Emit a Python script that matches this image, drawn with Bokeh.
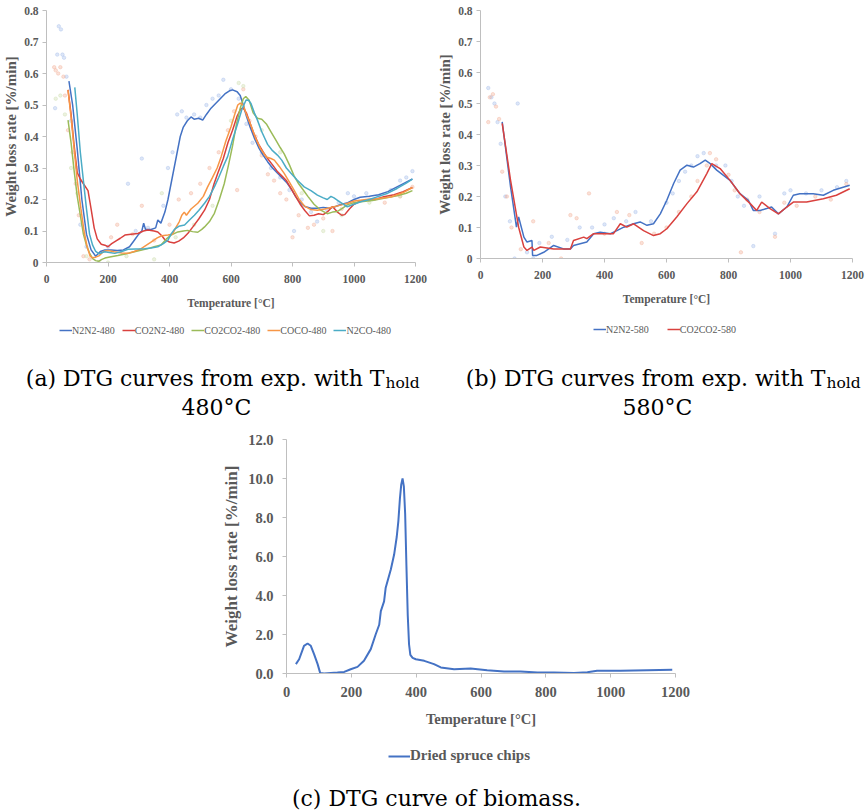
from bokeh.plotting import figure
from bokeh.layouts import column, row
from bokeh.models import Range1d, FixedTicker, Legend, LegendItem, Label, PrintfTickFormatter
from bokeh.embed import file_html
from bokeh.resources import INLINE

# ---------------------------------------------------------------- ticks
temp_ticks = [0, 200, 400, 600, 800, 1000, 1200]
rate_ticks_ab = [0, 0.1, 0.2, 0.3, 0.4, 0.5, 0.6, 0.7, 0.8]
rate_ticks_c = [0, 2, 4, 6, 8, 10, 12]

# ---------------------------------------------------------------- (a) Thold 480 C
n2n2_480_t = [73, 85, 100, 115, 130, 145, 160, 175, 190, 210, 230, 250, 270, 285, 300, 310, 316, 322, 340, 355,
              362, 372, 385, 395, 405, 415, 425, 435, 445, 458, 470, 480, 495, 508, 520, 535, 550, 565, 580, 595,
              605, 620, 630, 640, 650, 662, 676, 690, 705, 719, 735, 750, 765, 780, 795, 810, 825, 840, 860, 881,
              900, 920, 940, 960, 980, 1000, 1020, 1050, 1080, 1110, 1140, 1170, 1190]
n2n2_480_v = [0.576, 0.50, 0.36, 0.20, 0.09, 0.04, 0.02, 0.035, 0.04, 0.04, 0.038, 0.04, 0.05, 0.07, 0.09, 0.10,
              0.125, 0.105, 0.105, 0.11, 0.135, 0.125, 0.16, 0.20, 0.25, 0.30, 0.35, 0.40, 0.43, 0.45, 0.462,
              0.455, 0.458, 0.452, 0.47, 0.49, 0.505, 0.52, 0.535, 0.545, 0.548, 0.542, 0.53, 0.50, 0.465, 0.43,
              0.395, 0.365, 0.34, 0.32, 0.30, 0.285, 0.27, 0.255, 0.235, 0.21, 0.19, 0.178, 0.172, 0.172, 0.175,
              0.172, 0.178, 0.185, 0.19, 0.20, 0.207, 0.21, 0.215, 0.225, 0.24, 0.255, 0.265]

co2n2_480_t = [70, 80, 90, 100, 110, 120, 135, 145, 155, 165, 178, 190, 200, 212, 225, 240, 255, 275, 297, 315,
               330, 350, 362, 375, 385, 400, 415, 430, 445, 460, 476, 495, 514, 530, 545, 557, 575, 590, 605, 620,
               632, 640, 650, 663, 676, 690, 705, 719, 735, 750, 765, 780, 795, 810, 825, 840, 855, 870, 885, 900,
               915, 930, 946, 960, 970, 985, 1000, 1020, 1043, 1070, 1097, 1130, 1160, 1190]
co2n2_480_v = [0.548, 0.47, 0.37, 0.285, 0.265, 0.25, 0.228, 0.17, 0.11, 0.075, 0.058, 0.055, 0.05, 0.06, 0.068,
               0.077, 0.087, 0.09, 0.092, 0.10, 0.103, 0.10, 0.097, 0.085, 0.072, 0.065, 0.062, 0.068, 0.078,
               0.093, 0.113, 0.138, 0.166, 0.20, 0.25, 0.283, 0.33, 0.38, 0.42, 0.465, 0.488, 0.49, 0.475, 0.44,
               0.405, 0.375, 0.35, 0.33, 0.31, 0.29, 0.275, 0.26, 0.235, 0.21, 0.185, 0.165, 0.148, 0.15, 0.155,
               0.152, 0.162, 0.178, 0.16, 0.15, 0.152, 0.17, 0.185, 0.195, 0.198, 0.20, 0.209, 0.215, 0.225, 0.238]

co2co2_480_t = [70, 80, 90, 100, 110, 120, 130, 140, 150, 160, 170, 180, 190, 210, 232, 260, 286, 310, 330, 350,
                373, 390, 405, 427, 445, 459, 475, 492, 505, 514, 530, 546, 562, 578, 592, 605, 618, 630, 640, 648,
                659, 672, 686, 700, 715, 730, 745, 760, 773, 790, 805, 820, 835, 850, 870, 892, 913, 930, 946, 962,
                978, 1000, 1022, 1060, 1097, 1140, 1170, 1190]
co2co2_480_v = [0.452, 0.38, 0.29, 0.21, 0.15, 0.09, 0.055, 0.03, 0.012, 0.006, 0.004, 0.01, 0.014, 0.018, 0.022,
                0.028, 0.034, 0.04, 0.044, 0.05, 0.056, 0.075, 0.087, 0.097, 0.10, 0.102, 0.098, 0.096, 0.105,
                0.113, 0.13, 0.156, 0.20, 0.25, 0.31, 0.37, 0.44, 0.49, 0.52, 0.527, 0.515, 0.475, 0.458, 0.455,
                0.44, 0.415, 0.39, 0.365, 0.345, 0.31, 0.275, 0.25, 0.23, 0.21, 0.185, 0.166, 0.155, 0.16, 0.162,
                0.172, 0.183, 0.19, 0.193, 0.197, 0.204, 0.212, 0.22, 0.228]

coco_480_t = [70, 80, 90, 100, 112, 122, 132, 142, 150, 160, 172, 185, 200, 220, 245, 265, 285, 308, 325, 340,
              360, 375, 395, 410, 420, 432, 440, 448, 455, 470, 492, 510, 524, 540, 555, 568, 583, 600, 612, 622,
              630, 640, 650, 665, 680, 697, 715, 730, 741, 757, 773, 790, 805, 822, 838, 860, 881, 905, 935, 960,
              980, 1000, 1040, 1080, 1120, 1160, 1190]
coco_480_v = [0.548, 0.46, 0.36, 0.26, 0.17, 0.10, 0.05, 0.02, 0.015, 0.017, 0.022, 0.035, 0.038, 0.034, 0.03,
              0.029, 0.035, 0.044, 0.055, 0.065, 0.078, 0.085, 0.087, 0.09, 0.11, 0.13, 0.15, 0.16, 0.15, 0.17,
              0.188, 0.21, 0.24, 0.27, 0.30, 0.336, 0.385, 0.431, 0.47, 0.50, 0.506, 0.50, 0.47, 0.435, 0.395,
              0.36, 0.335, 0.33, 0.325, 0.305, 0.283, 0.255, 0.23, 0.20, 0.18, 0.168, 0.166, 0.17, 0.177, 0.183,
              0.188, 0.195, 0.20, 0.203, 0.208, 0.222, 0.238]

n2co_480_t = [92, 100, 110, 120, 130, 140, 150, 160, 170, 189, 205, 222, 245, 265, 290, 319, 340, 362, 380, 395,
              405, 416, 430, 449, 465, 481, 495, 514, 530, 546, 560, 575, 589, 605, 622, 635, 649, 657, 665, 676,
              686, 700, 719, 735, 751, 765, 780, 795, 815, 838, 860, 881, 900, 913, 925, 935, 950, 965, 978, 1000,
              1022, 1050, 1080, 1110, 1140, 1170, 1190]
n2co_480_v = [0.556, 0.47, 0.35, 0.26, 0.17, 0.09, 0.055, 0.035, 0.028, 0.034, 0.032, 0.029, 0.035, 0.042, 0.043,
              0.044, 0.046, 0.05, 0.06, 0.071, 0.09, 0.105, 0.115, 0.119, 0.135, 0.15, 0.165, 0.188, 0.21, 0.24,
              0.27, 0.305, 0.336, 0.39, 0.442, 0.485, 0.516, 0.515, 0.505, 0.475, 0.452, 0.415, 0.375, 0.355,
              0.341, 0.325, 0.30, 0.283, 0.262, 0.24, 0.228, 0.214, 0.205, 0.20, 0.21, 0.205, 0.195, 0.185, 0.177,
              0.185, 0.193, 0.20, 0.21, 0.22, 0.235, 0.252, 0.265]

# raw (unsmoothed) readings shown as faint dots
raw_blue_480_t = [28, 35, 40, 47, 52, 57, 65, 80, 100, 110, 130, 200, 265, 290, 310, 330, 380, 395, 410, 425, 440,
                  455, 480, 500, 520, 540, 560, 575, 600, 625, 650, 670, 700, 730, 760, 790, 805, 830, 860, 880,
                  910, 950, 980, 1000, 1040, 1080, 1120, 1150, 1170, 1190]
raw_blue_480_v = [0.49, 0.66, 0.75, 0.74, 0.66, 0.65, 0.59, 0.45, 0.30, 0.12, 0.05, 0.05, 0.25, 0.10, 0.33, 0.11,
                  0.18, 0.30, 0.35, 0.47, 0.48, 0.46, 0.47, 0.46, 0.50, 0.52, 0.53, 0.58, 0.55, 0.52, 0.44, 0.38,
                  0.35, 0.30, 0.27, 0.23, 0.10, 0.20, 0.16, 0.13, 0.17, 0.19, 0.22, 0.21, 0.22, 0.21, 0.23, 0.26,
                  0.27, 0.29]
raw_red_480_t = [25, 30, 38, 45, 55, 60, 70, 85, 95, 105, 120, 140, 210, 230, 280, 310, 350, 400, 430, 470, 500,
                 530, 560, 590, 610, 620, 640, 660, 680, 700, 720, 740, 760, 780, 800, 820, 850, 870, 900, 930,
                 960, 1000, 1050, 1100, 1150, 1190]
raw_red_480_v = [0.62, 0.61, 0.60, 0.62, 0.59, 0.53, 0.42, 0.35, 0.25, 0.15, 0.02, 0.01, 0.08, 0.12, 0.09, 0.18,
                 0.07, 0.12, 0.20, 0.22, 0.25, 0.30, 0.35, 0.42, 0.48, 0.23, 0.55, 0.45, 0.40, 0.34, 0.28, 0.26,
                 0.22, 0.20, 0.08, 0.15, 0.11, 0.12, 0.14, 0.10, 0.17, 0.19, 0.20, 0.19, 0.21, 0.24]
raw_green_480_t = [30, 45, 60, 80, 100, 130, 170, 200, 260, 350, 375, 420, 480, 540, 600, 625, 640, 700, 760, 830,
                   900, 960, 1050, 1150]
raw_green_480_v = [0.52, 0.53, 0.47, 0.30, 0.22, 0.02, 0.0, 0.0, 0.02, 0.01, 0.22, 0.08, 0.12, 0.18, 0.45, 0.57,
                   0.56, 0.42, 0.35, 0.22, 0.10, 0.15, 0.19, 0.21]

# ---------------------------------------------------------------- (b) Thold 580 C
n2n2_580_t = [70, 97, 116, 123, 140, 150, 166, 168, 182, 204, 236, 268, 290, 300, 343, 365, 386, 419, 440, 462,
              494, 515, 537, 558, 580, 601, 623, 644, 666, 687, 708, 725, 741, 762, 784, 805, 837, 864, 880, 902,
              923, 939, 961, 988, 1009, 1030, 1073, 1106, 1138, 1191]
n2n2_580_v = [0.441, 0.231, 0.101, 0.134, 0.069, 0.053, 0.058, 0.01, 0.01, 0.02, 0.042, 0.031, 0.031, 0.042,
              0.053, 0.08, 0.085, 0.08, 0.09, 0.101, 0.112, 0.118, 0.107, 0.112, 0.144, 0.188, 0.242, 0.285,
              0.301, 0.295, 0.306, 0.317, 0.306, 0.285, 0.268, 0.252, 0.209, 0.188, 0.155, 0.155, 0.161, 0.166,
              0.144, 0.166, 0.204, 0.209, 0.209, 0.204, 0.22, 0.236]

co2co2_580_t = [70, 97, 123, 140, 150, 166, 172, 193, 236, 268, 290, 300, 333, 343, 365, 408, 429, 451, 472, 494,
                526, 558, 580, 601, 633, 666, 698, 730, 746, 773, 805, 837, 870, 891, 907, 934, 961, 988, 1009,
                1052, 1106, 1148, 1191]
co2co2_580_v = [0.436, 0.252, 0.101, 0.037, 0.026, 0.037, 0.026, 0.037, 0.031, 0.031, 0.031, 0.058, 0.069, 0.064,
                0.08, 0.08, 0.08, 0.112, 0.101, 0.112, 0.09, 0.074, 0.08, 0.096, 0.134, 0.177, 0.215, 0.274,
                0.306, 0.29, 0.252, 0.209, 0.177, 0.155, 0.182, 0.161, 0.144, 0.166, 0.182, 0.182, 0.193, 0.204,
                0.225]

raw_blue_580_t = [25, 35, 45, 55, 65, 80, 95, 110, 120, 150, 170, 190, 230, 280, 320, 360, 400, 430, 470, 500, 550,
                  600, 620, 640, 660, 680, 700, 720, 760, 790, 810, 830, 850, 880, 900, 950, 980, 1000, 1050, 1100,
                  1150, 1180]
raw_blue_580_v = [0.55, 0.52, 0.50, 0.44, 0.37, 0.20, 0.12, 0.0, 0.50, 0.02, 0.0, 0.05, 0.07, 0.06, 0.10, 0.10,
                  0.11, 0.13, 0.12, 0.15, 0.12, 0.18, 0.21, 0.25, 0.28, 0.30, 0.33, 0.34, 0.30, 0.30, 0.25, 0.20,
                  0.17, 0.04, 0.20, 0.08, 0.21, 0.22, 0.21, 0.22, 0.23, 0.25]
raw_red_580_t = [25, 30, 40, 50, 60, 70, 85, 100, 130, 170, 220, 260, 290, 310, 350, 400, 440, 480, 520, 560, 600,
                 640, 680, 700, 730, 740, 760, 800, 820, 840, 860, 900, 950, 980, 1020, 1080, 1130, 1180]
raw_red_580_v = [0.44, 0.52, 0.53, 0.49, 0.45, 0.28, 0.20, 0.10, 0.03, 0.12, 0.05, 0.0, 0.14, 0.13, 0.21, 0.08,
                 0.15, 0.14, 0.05, 0.08, 0.10, 0.15, 0.20, 0.25, 0.30, 0.34, 0.32, 0.27, 0.22, 0.02, 0.19, 0.15,
                 0.07, 0.18, 0.17, 0.20, 0.19, 0.24]

# ---------------------------------------------------------------- (c) biomass
spruce_t = [29, 39, 54, 65, 75, 85, 96, 104, 116, 157, 178, 198, 219, 239, 260, 275, 286, 291, 301, 306, 322, 332,
            340, 345, 350, 354, 358, 362, 366, 370, 374, 378, 382, 389, 399, 425, 455, 476, 517, 568, 619, 671,
            722, 774, 825, 887, 928, 958, 1030, 1112, 1190]
spruce_v = [0.48, 0.73, 1.42, 1.54, 1.42, 0.99, 0.48, 0.02, 0.0, 0.05, 0.08, 0.22, 0.34, 0.65, 1.25, 2.0, 2.5,
            3.2, 3.7, 4.4, 5.35, 6.1, 7.0, 7.8, 9.0, 9.7, 10.0, 9.6, 8.2, 5.5, 3.0, 1.5, 0.95, 0.8, 0.73, 0.65,
            0.48, 0.31, 0.22, 0.26, 0.17, 0.10, 0.10, 0.05, 0.05, 0.03, 0.07, 0.14, 0.14, 0.17, 0.19]

# ---------------------------------------------------------------- styling
BLUE, RED, GREEN, ORANGE, CYAN = "#4472C4", "#D9413E", "#9BBB59", "#F79646", "#4BACC6"
TEXT = "#595959"
AXIS = "#BFBFBF"
SERIF = "Liberation Serif"
CAPTION_FONT = "DejaVu Serif"
NAN = float("nan")


def base_figure(width, height, border, y_end, y_ticks):
    left, right, top, bottom = border
    p = figure(width=width, height=height, output_backend="svg", toolbar_location=None,
               x_range=Range1d(0, 1200), y_range=Range1d(0, y_end),
               min_border_left=left, min_border_right=right, min_border_top=top, min_border_bottom=bottom)
    p.frame_align = False
    p.outline_line_color = None
    p.xgrid.visible = False
    p.ygrid.visible = False
    p.xaxis.ticker = FixedTicker(ticks=temp_ticks)
    p.yaxis.ticker = FixedTicker(ticks=y_ticks)
    for ax in (p.xaxis, p.yaxis):
        ax.axis_line_color = AXIS
        ax.major_tick_line_color = AXIS
        ax.major_tick_out = 4
        ax.major_tick_in = 0
        ax.minor_tick_line_color = None
        ax.major_label_text_font = SERIF
        ax.major_label_text_font_style = "bold"
        ax.major_label_text_color = TEXT
        ax.axis_label_text_font = SERIF
        ax.axis_label_text_font_style = "bold"
        ax.axis_label_text_color = TEXT
    p.xaxis.axis_label = "Temperature [°C]"
    p.yaxis.axis_label = "Weight loss rate [%/min]"
    return p


def style_small(p):
    p.xaxis.major_label_text_font_size = "11.5px"
    p.yaxis.major_label_text_font_size = "11.5px"
    p.xaxis.axis_label_text_font_size = "11.5px"
    p.yaxis.axis_label_text_font_size = "15px"
    p.xaxis.major_label_standoff = 8
    p.yaxis.major_label_standoff = 4
    p.xaxis.axis_label_standoff = 11
    p.yaxis.axis_label_standoff = 2
    p.yaxis.major_label_overrides = {0: "0"}


def caption_figure(width, height):
    # blank strip under a chart that carries its legend and caption
    c = figure(width=width, height=height, output_backend="svg", toolbar_location=None,
               x_range=Range1d(0, width), y_range=Range1d(height, 0),
               x_axis_type=None, y_axis_type=None, min_border=0)
    c.frame_align = False
    c.outline_line_color = None
    c.xgrid.visible = False
    c.ygrid.visible = False
    return c


def add_legend(c, entries, x, y, glyph_w, spacing, size, width, bold=False, h=12):
    # legend keys: line renderers that carry only the series style
    items = []
    for label, color in entries:
        key = c.line([NAN], [NAN], color=color, line_width=width)
        items.append(LegendItem(label=label, renderers=[key]))
    leg = Legend(items=items, location=(x, y), orientation="horizontal",
                 glyph_width=glyph_w, glyph_height=h, label_height=h, label_standoff=0,
                 spacing=spacing, padding=0, margin=0, border_line_color=None,
                 background_fill_alpha=0, label_text_font=SERIF, label_text_font_size=size,
                 label_text_color=TEXT, label_text_font_style="bold" if bold else "normal")
    c.add_layout(leg, "center")


def caption_text(c, text, x, y, align, size="22px"):
    c.add_layout(Label(x=x, y=y, text=text, text_font=CAPTION_FONT, text_font_size=size,
                       text_align=align, text_baseline="alphabetic", text_color="black"))


# ---------------------------------------------------------------- panel (a)
pa = base_figure(433, 318, (45, 18, 10, 56), 0.8, rate_ticks_ab)
style_small(pa)
pa.scatter(raw_blue_480_t, raw_blue_480_v, size=3.5, color="#9DB8E8", alpha=0.35)
pa.scatter(raw_red_480_t, raw_red_480_v, size=3.5, color="#F2A98F", alpha=0.35)
pa.scatter(raw_green_480_t, raw_green_480_v, size=3.5, color="#C9DBA6", alpha=0.35)
pa.line(n2n2_480_t, n2n2_480_v, color=BLUE, line_width=1.5)
pa.line(co2n2_480_t, co2n2_480_v, color=RED, line_width=1.5)
pa.line(co2co2_480_t, co2co2_480_v, color=GREEN, line_width=1.5)
pa.line(coco_480_t, coco_480_v, color=ORANGE, line_width=1.5)
pa.line(n2co_480_t, n2co_480_v, color=CYAN, line_width=1.5)

cap_a = caption_figure(433, 102)
add_legend(cap_a, [("N2N2-480", BLUE), ("CO2N2-480", RED), ("CO2CO2-480", GREEN),
                   ("COCO-480", ORANGE), ("N2CO-480", CYAN)], 59, 84, 13, 7, "10px", 1.5)
caption_text(cap_a, "(a) DTG curves from exp. with T", 384, 59.5, "right")
caption_text(cap_a, "hold", 385, 64.5, "left", "15.5px")
caption_text(cap_a, "480°C", 216, 88.5, "center")

# ---------------------------------------------------------------- panel (b)
pb = base_figure(434, 318, (47, 15, 10, 60), 0.8, rate_ticks_ab)
style_small(pb)
pb.scatter(raw_blue_580_t, raw_blue_580_v, size=3.5, color="#9DB8E8", alpha=0.35)
pb.scatter(raw_red_580_t, raw_red_580_v, size=3.5, color="#F2A98F", alpha=0.35)
pb.line(n2n2_580_t, n2n2_580_v, color=BLUE, line_width=1.5)
pb.line(co2co2_580_t, co2co2_580_v, color=RED, line_width=1.5)

cap_b = caption_figure(434, 102)
add_legend(cap_b, [("N2N2-580", BLUE), ("CO2CO2-580", RED)], 160, 85, 13, 18, "10px", 1.5)
caption_text(cap_b, "(b) DTG curves from exp. with T", 392, 59.5, "right")
caption_text(cap_b, "hold", 393, 64.5, "left", "15.5px")
caption_text(cap_b, "580°C", 224, 88.5, "center")

# ---------------------------------------------------------------- panel (c)
pc = base_figure(867, 315, (286, 192, 19, 62), 12, rate_ticks_c)
pc.yaxis.formatter = PrintfTickFormatter(format="%.1f")
pc.xaxis.major_label_text_font_size = "14.5px"
pc.yaxis.major_label_text_font_size = "14.5px"
pc.xaxis.axis_label_text_font_size = "14.5px"
pc.yaxis.axis_label_text_font_size = "17px"
pc.xaxis.major_label_standoff = 9
pc.yaxis.major_label_standoff = 9
pc.xaxis.axis_label_standoff = 11
pc.yaxis.axis_label_standoff = 4
pc.line(spruce_t, spruce_v, color=BLUE, line_width=2)

cap_c = caption_figure(867, 77)
add_legend(cap_c, [("Dried spruce chips", BLUE)], 388, 48, 22, 0, "15px", 2, bold=True, h=16)
caption_text(cap_c, "(c) DTG curve of biomass.", 436, 63, "center")

layout = column(row(column(pa, cap_a, spacing=0), column(pb, cap_b, spacing=0), spacing=0),
                column(pc, cap_c, spacing=0), spacing=0)
open("out.html", "w").write(file_html(layout, INLINE))
